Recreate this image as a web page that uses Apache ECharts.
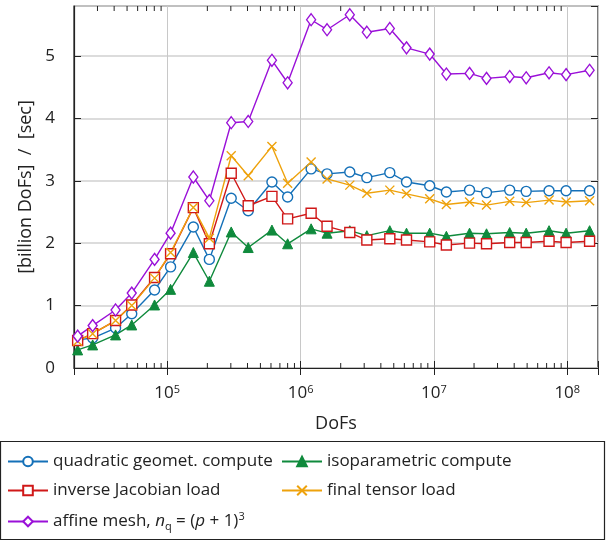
<!DOCTYPE html>
<html>
<head>
<meta charset="utf-8">
<script src="https://cdn.jsdelivr.net/npm/echarts@6/dist/echarts.min.js"></script>
<style>
  html, body { margin: 0; padding: 0; background: #fff; }
  #chart { width: 606px; height: 540px; }
</style>
</head>
<body>
<div id="chart"></div>
<script>
// DoFs (x) and throughput in billion DoFs / sec (y)
var dofs = [2.13e4, 2.76e4, 4.1e4, 5.42e4, 8.04e4, 1.06e5, 1.57e5, 2.07e5, 3.02e5, 4.05e5,
            6.1e5, 8.0e5, 1.2e6, 1.58e6, 2.34e6, 3.14e6, 4.67e6, 6.23e6, 9.3e6, 1.24e7,
            1.85e7, 2.48e7, 3.7e7, 4.92e7, 7.3e7, 9.8e7, 1.47e8];
var quadGeom = [0.45, 0.48, 0.64, 0.87, 1.25, 1.62, 2.26, 1.74, 2.72, 2.52, 2.98, 2.74, 3.19, 3.11,
                3.14, 3.05, 3.13, 2.98, 2.92, 2.82, 2.85, 2.81, 2.85, 2.83, 2.84, 2.84, 2.84];
var isoParam = [0.29, 0.37, 0.53, 0.69, 1.01, 1.26, 1.85, 1.39, 2.18, 1.93, 2.21, 1.99, 2.23, 2.16,
                2.2, 2.12, 2.2, 2.16, 2.16, 2.11, 2.16, 2.15, 2.17, 2.16, 2.2, 2.16, 2.2];
var invJac = [0.44, 0.55, 0.76, 1.01, 1.45, 1.83, 2.57, 1.99, 3.12, 2.6, 2.75, 2.39, 2.48, 2.27,
              2.17, 2.05, 2.07, 2.05, 2.02, 1.97, 2.0, 1.99, 2.01, 2.01, 2.03, 2.01, 2.03];
var finalTensor = [0.43, 0.55, 0.76, 1.0, 1.44, 1.85, 2.57, 2.08, 3.4, 3.08, 3.55, 2.96, 3.3, 3.03,
                   2.93, 2.8, 2.85, 2.79, 2.71, 2.62, 2.66, 2.61, 2.67, 2.65, 2.69, 2.66, 2.68];
var affine = [0.51, 0.68, 0.93, 1.2, 1.74, 2.16, 3.06, 2.68, 3.93, 3.95, 4.93, 4.57, 5.58, 5.42,
              5.66, 5.38, 5.44, 5.13, 5.03, 4.71, 4.72, 4.64, 4.67, 4.65, 4.73, 4.70, 4.77];

var xMin = 2e4, xMax = 1.7e8, yMax = 5.8;
var txt = '#222';
var font = 'Open Sans';

function pairs(ys) {
    return dofs.map(function (x, i) { return [x, ys[i]]; });
}

// minor ticks 2..9 x 10^k of the log axis
var minorTicks = [];
for (var k = 4; k <= 8; k++) {
    for (var m = 2; m <= 9; m++) {
        var v = m * Math.pow(10, k);
        if (v > xMin && v < xMax) minorTicks.push([v, 0]);
    }
}

var myChart = echarts.init(document.getElementById('chart'));

function mkLine(name, ys, color, symbol, size, filled) {
    return {
        name: name,
        type: 'line',
        data: pairs(ys),
        symbol: symbol,
        symbolSize: size,
        showAllSymbol: true,
        lineStyle: { color: color, width: 1.4 },
        itemStyle: filled ? { color: color, borderColor: color, borderWidth: 1 }
                          : { color: '#fff', borderColor: color, borderWidth: 1.4 },
        color: color,
        emphasis: { disabled: true },
        animation: false
    };
}

var crossPath = 'path://M0,0L10,10M10,0L0,10';

var legendText = {
    color: txt, fontFamily: font, fontSize: 17,
    rich: {
        n: { fontFamily: font, fontSize: 17, color: txt },
        i: { fontFamily: font, fontSize: 17, fontStyle: 'italic', color: txt },
        sub: { fontFamily: font, fontSize: 11, color: txt, verticalAlign: 'bottom', padding: [8, 0, 0, 0] },
        sup: { fontFamily: font, fontSize: 11, color: txt, verticalAlign: 'top', padding: [0, 0, 10, 0] }
    }
};

var option = {
    backgroundColor: '#fff',
    animation: false,
    grid: { left: 74, right: 8, top: 6, bottom: 172, show: true, borderColor: txt, borderWidth: 1.2 },
    xAxis: [{
        type: 'log',
        min: xMin,
        max: xMax,
        name: 'DoFs',
        nameLocation: 'middle',
        nameGap: 47,
        nameTextStyle: { color: txt, fontFamily: font, fontSize: 18 },
        axisLine: { lineStyle: { color: txt, width: 1.2 } },
        axisTick: { inside: true, length: 7, lineStyle: { color: txt } },
        splitLine: { show: true, lineStyle: { color: '#c8c8c8', width: 1 } },
        axisLabel: {
            margin: 16,
            formatter: function (v) {
                var e = Math.log10(v);
                if (Math.abs(e - Math.round(e)) > 1e-6) return '';
                return '{b|10}{s|' + Math.round(e) + '}';
            },
            rich: {
                b: { fontFamily: font, fontSize: 17, color: txt },
                s: { fontFamily: font, fontSize: 11, color: txt, verticalAlign: 'top', padding: [0, 0, 8, 0] }
            }
        }
    }, {
        type: 'log',
        min: xMin,
        max: xMax,
        position: 'top',
        axisLine: { show: false },
        axisTick: { inside: true, length: 7, lineStyle: { color: txt } },
        axisLabel: { show: false },
        splitLine: { show: false }
    }],
    yAxis: [{
        type: 'value',
        min: 0,
        max: yMax,
        interval: 1,
        name: '[billion DoFs]  /  [sec]',
        nameLocation: 'middle',
        nameGap: 38,
        nameTextStyle: { color: txt, fontFamily: font, fontSize: 18 },
        axisLine: { show: true, lineStyle: { color: txt, width: 1.2 } },
        axisTick: { show: true, inside: true, length: 7, lineStyle: { color: txt } },
        splitLine: { show: true, lineStyle: { color: '#d0d0d0', width: 1.5 } },
        axisLabel: { color: txt, fontFamily: font, fontSize: 17, margin: 19, showMaxLabel: false }
    }, {
        type: 'value',
        min: 0,
        max: yMax,
        interval: 1,
        position: 'right',
        axisLine: { show: false },
        axisTick: { show: true, inside: true, length: 7, lineStyle: { color: txt } },
        axisLabel: { show: false },
        splitLine: { show: false }
    }],
    legend: [{
        orient: 'vertical',
        left: 7,
        top: 453,
        padding: 0,
        itemWidth: 40,
        itemHeight: 12,
        itemGap: 12,
        textStyle: legendText,
        data: ['quadratic geomet. compute', 'inverse Jacobian load', 'affine mesh'],
        formatter: function (name) {
            if (name === 'affine mesh') return '{n|affine mesh, }{i|n}{sub|q}{n| = (}{i|p}{n| + 1)}{sup|3}';
            return name;
        }
    }, {
        orient: 'vertical',
        left: 281,
        top: 453,
        padding: 0,
        itemWidth: 40,
        itemHeight: 12,
        itemGap: 12,
        textStyle: legendText,
        data: ['isoparametric compute', 'final tensor load']
    }],
    graphic: [{
        type: 'rect',
        shape: { x: 0.5, y: 441.5, width: 604, height: 98 },
        style: { fill: 'none', stroke: txt, lineWidth: 1.2 },
        silent: true
    }],
    series: [
        mkLine('quadratic geomet. compute', quadGeom, '#1470b8', 'circle', 10, false),
        mkLine('isoparametric compute', isoParam, '#0f8a3c', 'triangle', 10, true),
        mkLine('inverse Jacobian load', invJac, '#d01818', 'rect', 10, false),
        mkLine('final tensor load', finalTensor, '#eea20c', crossPath, 9, false),
        mkLine('affine mesh', affine, '#9a10d8', 'diamond', [9, 12], false),
        {
            type: 'custom',
            silent: true,
            data: minorTicks,
            encode: { x: 0, y: 1 },
            renderItem: function (params, api) {
                var v = api.value(0);
                var b = api.coord([v, 0]);
                var t = api.coord([v, yMax]);
                return {
                    type: 'group',
                    children: [
                        { type: 'line', shape: { x1: b[0], y1: b[1], x2: b[0], y2: b[1] - 5 }, style: { stroke: txt, lineWidth: 1 } },
                        { type: 'line', shape: { x1: t[0], y1: t[1], x2: t[0], y2: t[1] + 5 }, style: { stroke: txt, lineWidth: 1 } }
                    ]
                };
            }
        }
    ]
};
// the cross marker is a stroked path, not filled
option.series[3].itemStyle = { color: 'none', borderColor: '#eea20c', borderWidth: 1.4 };

myChart.setOption(option);
</script>
</body>
</html>
